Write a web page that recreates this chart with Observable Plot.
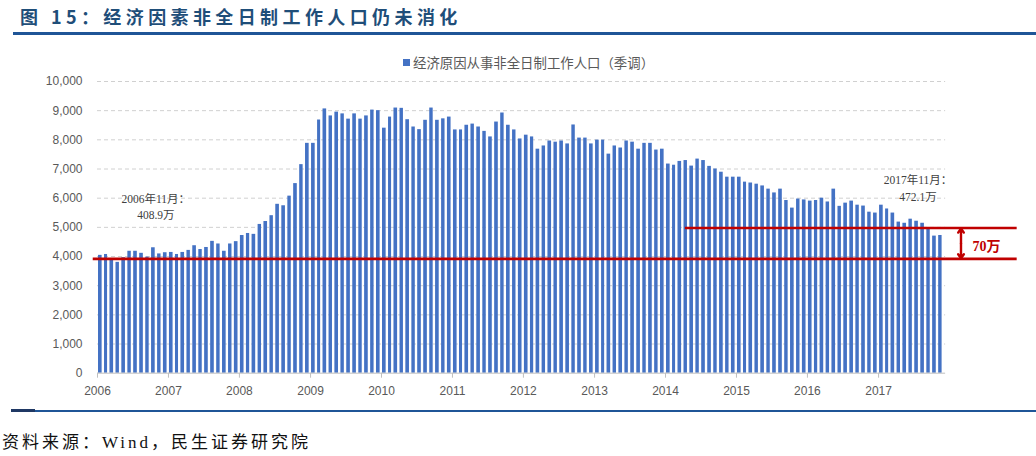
<!DOCTYPE html>
<html>
<head>
<meta charset="utf-8">
<script src="https://cdn.jsdelivr.net/npm/d3@7"></script>
<script src="https://cdn.jsdelivr.net/npm/@observablehq/plot@0.6"></script>
<style>
  html, body { margin: 0; padding: 0; background: #fff; }
  #page { position: relative; width: 1036px; height: 456px; overflow: hidden; background: #fff; }
  #title { position: absolute; left: 20px; top: 3px; font-family: "Noto Sans CJK SC", sans-serif; font-weight: 700; font-size: 18px; letter-spacing: 4.4px; color: #1F4E79; white-space: nowrap; }
  #titleRule { position: absolute; left: 13px; right: 0; top: 32px; height: 3px; background: #1F5597; }
  #legend { position: absolute; left: 403px; top: 52px; font-family: "Noto Sans CJK SC", sans-serif; font-size: 13.4px; color: #595959; white-space: nowrap; display: flex; align-items: center; }
  #legend .sw { display: inline-block; width: 7px; height: 7px; background: #4472C4; margin-right: 3px; }
  #chart { position: absolute; left: 0; top: 70px; }
  #bottomRule { position: absolute; left: 11px; right: 0; top: 409.5px; height: 2.5px; background: #1F5597; }
  #bottomRule2 { position: absolute; left: 11px; width: 24px; top: 409px; height: 3px; background: #1F3864; }
  #source { position: absolute; left: 2px; top: 428px; font-family: "Liberation Serif", "Noto Sans CJK SC", serif; font-size: 17px; letter-spacing: 3px; color: #111; white-space: nowrap; }
</style>
</head>
<body>
<div id="page">
  <div id="title">图 15：经济因素非全日制工作人口仍未消化</div>
  <div id="titleRule"></div>
  <div id="legend"><span class="sw"></span><span id="legendText"></span></div>
  <div id="chart"></div>
  <div id="bottomRule"></div>
  <div id="bottomRule2"></div>
  <div id="source">资料来源：Wind，民生证券研究院</div>
</div>
<script>
// ---- data (thousand persons, monthly, seasonally adjusted) ----
const seriesName = "经济原因从事非全日制工作人口（季调）";
const years = [2006, 2007, 2008, 2009, 2010, 2011, 2012, 2013, 2014, 2015, 2016, 2017];
const v2006 = [4040, 4070, 3920, 3800, 3960, 4180, 4180, 4110, 3980, 4300, 4089, 4130];
const v2007 = [4140, 4070, 4140, 4210, 4370, 4240, 4310, 4520, 4430, 4180, 4430, 4510];
const v2008 = [4720, 4790, 4760, 5100, 5200, 5400, 5790, 5740, 6070, 6500, 7150, 7880];
const v2009 = [7880, 8680, 9060, 8820, 8950, 8890, 8710, 8890, 8710, 8820, 9020, 9000];
const v2010 = [8400, 8780, 9090, 9080, 8690, 8440, 8350, 8670, 9090, 8670, 8720, 8780];
const v2011 = [8340, 8340, 8500, 8540, 8440, 8290, 8100, 8610, 8920, 8500, 8340, 8030];
const v2012 = [8160, 8100, 7680, 7790, 7960, 7920, 7960, 7860, 8510, 8060, 8060, 7860];
const v2013 = [7990, 7990, 7510, 7790, 7720, 7960, 7920, 7680, 7880, 7880, 7650, 7680];
const v2014 = [7170, 7130, 7260, 7290, 7100, 7340, 7290, 7090, 7000, 6890, 6720, 6720];
const v2015 = [6720, 6550, 6520, 6480, 6420, 6310, 6180, 6310, 5920, 5660, 5970, 5940];
const v2016 = [5900, 5920, 6000, 5870, 6310, 5720, 5830, 5900, 5760, 5730, 5520, 5490];
const v2017 = [5760, 5630, 5490, 5180, 5140, 5280, 5210, 5140, 4940, 4700, 4721];
const yearValues = [v2006, v2007, v2008, v2009, v2010, v2011, v2012, v2013, v2014, v2015, v2016, v2017];
const yTicks = [0, 1000, 2000, 3000, 4000, 5000, 6000, 7000, 8000, 9000, 10000];

// annotations
const noteStart = "2006年11月：\n408.9万";
const noteEnd = "2017年11月：\n472.1万";
const gapLabel = "70万";
const refLow = 3920;
const refHigh = 4980;

// ---- build table ----
const data = [];
years.forEach((yr, i) => {
  yearValues[i].forEach((v, m) => data.push({ date: new Date(Date.UTC(yr, m, 1)), value: v }));
});
const D = (y, m, d) => new Date(Date.UTC(y, m - 1, d));

document.getElementById("legendText").textContent = seriesName;

const red = "#C00000";
const fmt = d3.format(",");
const plot = Plot.plot({
  width: 1036,
  height: 330,
  marginLeft: 97,
  marginRight: 93,
  marginTop: 11,
  marginBottom: 27.3,
  style: { fontFamily: "Liberation Sans, Arial, sans-serif", fontSize: "12px", color: "#595959", background: "transparent", overflow: "visible" },
  x: { type: "utc", domain: [D(2006, 1, 1), D(2017, 12, 1)], label: null },
  y: { domain: [0, 10000], label: null },
  marks: [
    Plot.gridY(yTicks.slice(1), { stroke: "#d0d0d0", strokeOpacity: 1, strokeDasharray: "4,3", x1: () => D(2006,1,1), x2: () => D(2017,12,12) }),
    Plot.rectY(data, { x: "date", y: "value", interval: d3.utcMonth, fill: "#4472C4", insetLeft: 1, insetRight: 1.4 }),
    Plot.ruleY([0], { stroke: "#bfbfbf", strokeWidth: 1, x1: () => D(2006,1,1), x2: () => D(2017,12,12) }),
    Plot.axisY(yTicks, { tickSize: 0, tickPadding: 15, tickFormat: fmt, fill: "#595959", fontSize: 12, label: null }),
    Plot.axisX({ ticks: d3.utcYear.every(1), tickFormat: "%Y", tickSize: 5, tickPadding: 8, stroke: "#bfbfbf", fill: "#595959", fontSize: 12, label: null }),
    Plot.ruleY([refLow], { x1: () => D(2005,12,10), x2: () => D(2018,12,15), stroke: red, strokeWidth: 2.6 }),
    Plot.ruleY([refHigh], { x1: () => D(2014,4,13), x2: () => D(2018,12,15), stroke: red, strokeWidth: 2.6 }),
    Plot.arrow([0], { x1: () => D(2018,3,1), x2: () => D(2018,3,1), y1: () => (refLow + refHigh) / 2, y2: () => refHigh - 20, stroke: red, strokeWidth: 2.4, headLength: 8, headAngle: 70 }),
    Plot.arrow([0], { x1: () => D(2018,3,1), x2: () => D(2018,3,1), y1: () => (refLow + refHigh) / 2, y2: () => refLow + 20, stroke: red, strokeWidth: 2.4, headLength: 8, headAngle: 70 }),
    Plot.text([gapLabel], { x: () => D(2018,7,10), y: () => 4330, text: d => d, fill: red, fontWeight: "bold", fontSize: 14, fontFamily: "Liberation Serif, Noto Sans CJK SC, serif" }),
    Plot.text([noteStart], { x: () => D(2006,10,28), y: () => 5734, text: d => d, fill: "#404040", fontSize: 11.5, lineHeight: 1.4, fontFamily: "Liberation Serif, Noto Sans CJK SC, serif" }),
    Plot.text([noteEnd], { x: () => D(2017,7,23), y: () => 6371, text: d => d, fill: "#404040", fontSize: 11.5, lineHeight: 1.4, fontFamily: "Liberation Serif, Noto Sans CJK SC, serif" })
  ]
});
document.getElementById("chart").appendChild(plot);
</script>
</body>
</html>
